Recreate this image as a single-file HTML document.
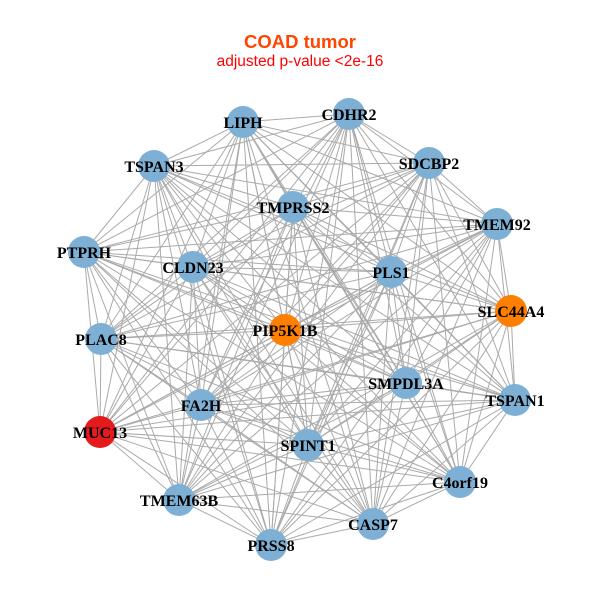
<!DOCTYPE html>
<html><head><meta charset="utf-8"><style>
html,body{margin:0;padding:0;background:#fff;width:600px;height:600px;overflow:hidden}
</style></head><body>
<svg id="g" width="600" height="600" xmlns="http://www.w3.org/2000/svg">
<rect width="600" height="600" fill="#fff"/>
<text x="300" y="48" text-anchor="middle" font-family="Liberation Sans, sans-serif" font-weight="bold" font-size="18.5" fill="#FF4500">COAD tumor</text>
<text x="300" y="66" text-anchor="middle" font-family="Liberation Sans, sans-serif" font-size="15.5" fill="#FF0000">adjusted p-value &lt;2e-16</text>
<g id="edges" stroke="#aaaaaa" stroke-width="1"></g>
<g id="nodes"></g>
<g id="labels" font-family="Liberation Serif, serif" font-weight="bold" font-size="16" fill="#000" text-anchor="middle">
<text x="243" y="128">LIPH</text>
<text x="349" y="120">CDHR2</text>
<text x="154" y="172">TSPAN3</text>
<text x="429" y="169">SDCBP2</text>
<text x="293" y="213">TMPRSS2</text>
<text x="497" y="230">TMEM92</text>
<text x="84" y="258">PTPRH</text>
<text x="193" y="273">CLDN23</text>
<text x="391" y="278">PLS1</text>
<text x="511" y="317">SLC44A4</text>
<text x="285" y="336">PIP5K1B</text>
<text x="101" y="345">PLAC8</text>
<text x="406" y="389">SMPDL3A</text>
<text x="515" y="406">TSPAN1</text>
<text x="201" y="411">FA2H</text>
<text x="100" y="438">MUC13</text>
<text x="308" y="451">SPINT1</text>
<text x="460" y="488">C4orf19</text>
<text x="179" y="506">TMEM63B</text>
<text x="373" y="530">CASP7</text>
<text x="271" y="551">PRSS8</text>
</g>
</svg>
<script>
var N=[[243,122,'b'],[349,114,'b'],[154,166,'b'],[429,163,'b'],[293,207,'b'],[497,224,'b'],[84,252,'b'],[193,267,'b'],[391,272,'b'],[511,311,'o'],[285,330,'o'],[101,339,'b'],[406,383,'b'],[515,400,'b'],[201,405,'b'],[100,432,'r'],[308,445,'b'],[460,482,'b'],[179,500,'b'],[373,524,'b'],[271,545,'b']];
var ns='http://www.w3.org/2000/svg',E=document.getElementById('edges'),V=document.getElementById('nodes');
var col={b:'#7EB0D5',o:'#FF7F00',r:'#E41A1C'};
for(var i=0;i<N.length;i++)for(var j=i+1;j<N.length;j++){
 var l=document.createElementNS(ns,'line');
 l.setAttribute('x1',N[i][0]);l.setAttribute('y1',N[i][1]);
 l.setAttribute('x2',N[j][0]);l.setAttribute('y2',N[j][1]);E.appendChild(l);}
N.forEach(function(n){var c=document.createElementNS(ns,'circle');
 c.setAttribute('cx',n[0]);c.setAttribute('cy',n[1]);c.setAttribute('r',16);
 c.setAttribute('fill',col[n[2]]);V.appendChild(c);});
</script>
</body></html>
